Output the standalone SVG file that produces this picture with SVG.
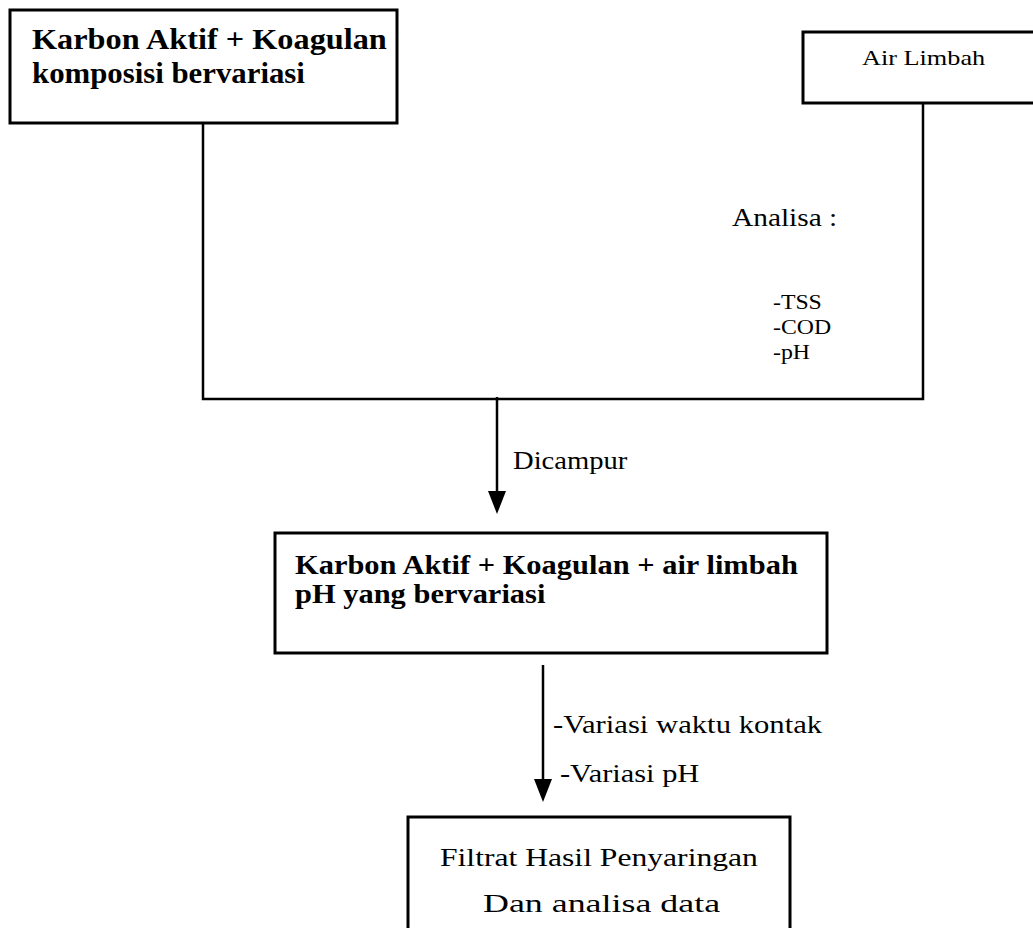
<svg xmlns="http://www.w3.org/2000/svg" width="1033" height="928" viewBox="0 0 1033 928">
<defs>
<style>
.box{fill:#fff;stroke:#000;stroke-width:3}
.ln{fill:none;stroke:#000;stroke-width:2.5}
.b{font-family:"Liberation Serif",serif;font-weight:bold;font-size:28px;fill:#000}
.b1{font-family:"Liberation Serif",serif;font-weight:bold;font-size:30px;fill:#000}
.r{font-family:"Liberation Serif",serif;font-size:26px;fill:#000}
.m{font-family:"Liberation Serif",serif;font-size:22px;fill:#000}
.s{font-family:"Liberation Serif",serif;font-size:21px;fill:#000}
</style>
</defs>
<rect width="1033" height="928" fill="#fff"/>
<g id="connectors">
<polyline class="ln" points="203,123 203,399 923,399 923,103"/>
<line class="ln" x1="497" y1="397" x2="497" y2="492"/>
<path d="M488,491 L506,491 L497,514 Z" fill="#000"/>
<line class="ln" x1="543" y1="665" x2="543" y2="781"/>
<path d="M534,779 L552,779 L543,802 Z" fill="#000"/>
<text class="r" transform="translate(513,469) scale(1.1,1)">Dicampur</text>
<text class="r" transform="translate(553,733) scale(1.18,1)">-Variasi waktu kontak</text>
<text class="r" transform="translate(560,782) scale(1.17,1)">-Variasi pH</text>
<text class="r" transform="translate(732,226) scale(1.13,1)">Analisa :</text>
<text class="m" transform="translate(773,309) scale(1.08,1)">-TSS<tspan x="0" dy="25">-COD</tspan><tspan x="0" dy="25">-pH</tspan></text>
</g>
<g id="karbon-koagulan">
<rect class="box" x="10" y="10" width="387" height="113"/>
<text class="b1" transform="translate(32,49) scale(1.077,1)">Karbon Aktif + Koagulan</text>
<text class="b1" transform="translate(32,83) scale(1.027,1)">komposisi bervariasi</text>
</g>
<g id="air-limbah">
<rect class="box" x="803" y="32" width="245" height="71"/>
<text class="s" transform="translate(862,65) scale(1.25,1)">Air Limbah</text>
</g>
<g id="campuran">
<rect class="box" x="275" y="533" width="552" height="120"/>
<text class="b" transform="translate(295,574) scale(1.0875,1)">Karbon Aktif + Koagulan + air limbah<tspan x="0" dy="29">pH yang bervariasi</tspan></text>
</g>
<g id="filtrat">
<rect class="box" x="408" y="817" width="382" height="130"/>
<text class="r" transform="translate(440,866) scale(1.217,1)">Filtrat Hasil Penyaringan</text>
<text class="r" transform="translate(483,912) scale(1.38,1)">Dan analisa data</text>
</g>
</svg>
